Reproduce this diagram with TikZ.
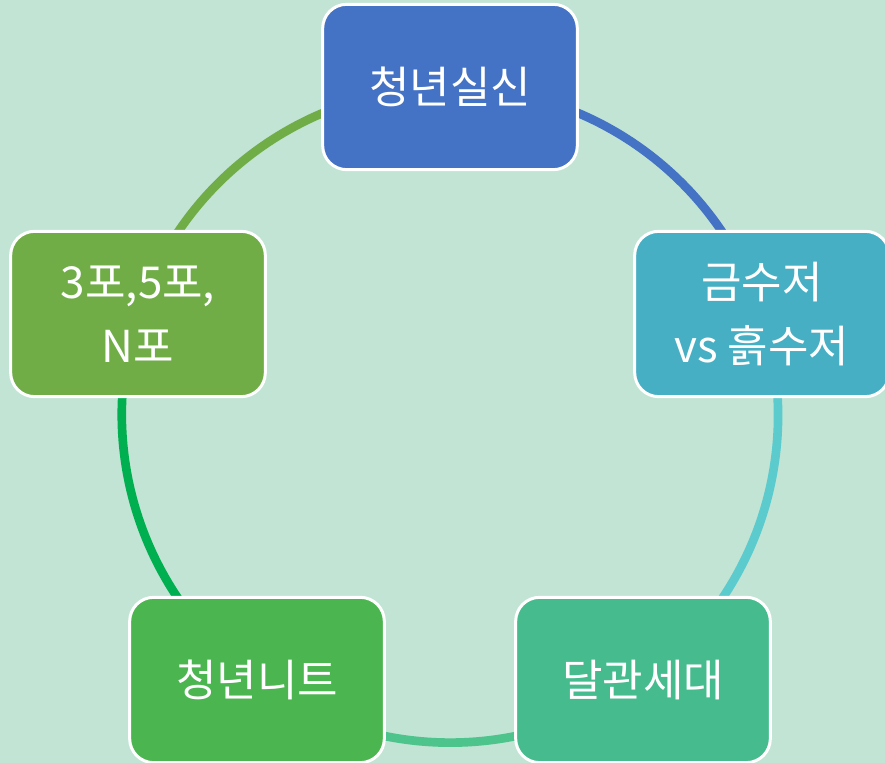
\documentclass[tikz,border=0pt]{standalone}
\usepackage{fontspec}
\setmainfont{Noto Sans CJK KR}
\usetikzlibrary{backgrounds}

\definecolor{bgmint}{HTML}{C2E4D4}
\definecolor{boxblue}{HTML}{4472C4}
\definecolor{boxteal}{HTML}{46AFC4}
\definecolor{boxsea}{HTML}{46BC8E}
\definecolor{boxgreen}{HTML}{4BB550}
\definecolor{boxolive}{HTML}{70AD47}
\definecolor{ringteal}{HTML}{5BCBCD}
\definecolor{ringsea}{HTML}{4DC48C}
\definecolor{ringgreen}{HTML}{00B050}

\tikzset{
  stage/.style={draw=white, line width=2.25pt, rounded corners=18pt,
    minimum width=191pt, minimum height=124pt, text=white, align=center,
    font=\fontsize{33}{48}\selectfont},
  ring/.style={line width=6.5pt},
}

\begin{document}
\begin{tikzpicture}[x=.75pt,y=.75pt]
  \useasboundingbox (0,0) rectangle (885,763);
  % five stages on a circle, centre (450,348)
  \node[stage,fill=boxblue]  (silsin) at (450,676) {청년실신};
  \node[stage,fill=boxteal]  (sujeo)  at (762,449) {금수저\\vs 흙수저};
  \node[stage,fill=boxsea]   (dalgwan) at (643,83) {달관세대};
  \node[stage,fill=boxgreen] (neet)   at (257,83)  {청년니트};
  \node[stage,fill=boxolive] (npo)    at (138,449) {3포,5포,\\N포};
  % ring segments, behind the boxes
  \begin{scope}[on background layer]
    \fill[bgmint] (0,0) rectangle (885,763);
    \draw[ring,boxblue]   (silsin.center)  arc[start angle=90,end angle=18,radius=246pt];
    \draw[ring,ringteal]  (sujeo.center)   arc[start angle=18,end angle=-54,radius=246pt];
    \draw[ring,ringsea]   (dalgwan.center) arc[start angle=-54,end angle=-126,radius=246pt];
    \draw[ring,ringgreen] (neet.center)    arc[start angle=-126,end angle=-198,radius=246pt];
    \draw[ring,boxolive]  (npo.center)     arc[start angle=162,end angle=90,radius=246pt];
  \end{scope}
\end{tikzpicture}
\end{document}
